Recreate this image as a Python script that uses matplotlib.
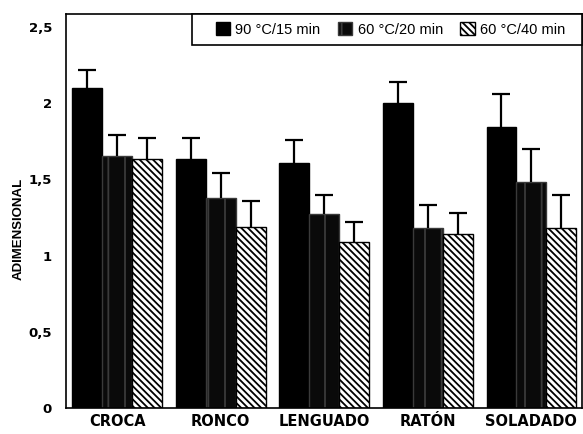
import matplotlib
matplotlib.use("Agg")
import matplotlib.pyplot as plt
from matplotlib.patches import Rectangle
import numpy as np

plt.rcParams['font.family'] = ['Liberation Sans', 'DejaVu Sans']
plt.rcParams['hatch.linewidth'] = 1.3

categories = ["CROCA", "RONCO", "LENGUADO", "RATÓN", "SOLADADO"]
series_names = ["90 °C/15 min", "60 °C/20 min", "60 °C/40 min"]
v_90_15 = [2.10, 1.63, 1.61, 2.00, 1.84]
e_90_15 = [0.12, 0.14, 0.15, 0.14, 0.22]
v_60_20 = [1.65, 1.38, 1.27, 1.18, 1.48]
e_60_20 = [0.14, 0.16, 0.13, 0.15, 0.22]
v_60_40 = [1.63, 1.19, 1.09, 1.14, 1.18]
e_60_40 = [0.14, 0.17, 0.13, 0.14, 0.22]
yticks = [0, 0.5, 1, 1.5, 2, 2.5]
ytick_labels = ["0", "0,5", "1", "1,5", "2", "2,5"]

fig = plt.figure(figsize=(5.83, 4.34), dpi=100)
ax = fig.add_axes([0.113, 0.06, 0.885, 0.908])

x = np.arange(len(categories))
w = 0.289
vals = [v_90_15, v_60_20, v_60_40]
errs = [e_90_15, e_60_20, e_60_40]
styles = [
    dict(color="black", edgecolor="black"),
    dict(color="#0a0a0a", edgecolor="#3a3a3a", hatch="|"),
    dict(color="white", edgecolor="black", hatch="\\" * 5),
]
handles = []
for j in range(3):
    pos = x + (j - 1) * w
    b = ax.bar(pos, vals[j], w, linewidth=1.0, label=series_names[j], **styles[j])
    handles.append(b)
    eb = ax.errorbar(pos, vals[j], yerr=[np.zeros(len(categories)), errs[j]],
                     fmt="none", ecolor="black", elinewidth=1.6, capsize=6.5,
                     capthick=1.6)
    caps = eb[1]
    if len(caps) == 2:
        caps[0].set_visible(False)

ax.set_xlim(-0.496, 4.487)
ax.set_ylim(0, 2.585)
ax.set_yticks(yticks)
ax.set_yticklabels(ytick_labels, fontsize=9.5, fontweight="bold",
                   family=["DejaVu Sans"])
ax.set_xticks(x)
ax.set_xticklabels(categories, fontsize=10.5, fontweight="bold",
                   family=["DejaVu Sans"])
ax.tick_params(axis="x", length=0, pad=4)
ax.tick_params(axis="y", length=0, pad=10)
ax.set_ylabel("ADIMENSIONAL", fontsize=9.5, fontweight="bold")
ax.yaxis.set_label_coords(-0.08, 0.455)
for s in ax.spines.values():
    s.set_linewidth(1.2)

# legend frame
frame = Rectangle((0.244, 0.921), 0.756, 0.079, transform=ax.transAxes,
                  facecolor="white", edgecolor="black", linewidth=1.2,
                  zorder=4, clip_on=False)
ax.add_patch(frame)
leg = ax.legend(handles=handles, labels=series_names, loc="center left",
                bbox_to_anchor=(0.29, 0.9605), ncol=3, frameon=False,
                fontsize=10.5, handlelength=1.0, handleheight=1.0,
                handletextpad=0.35, columnspacing=1.2, borderpad=0.0,
                borderaxespad=0.0)
leg.set_zorder(5)

fig.savefig("out.png", dpi=100)
